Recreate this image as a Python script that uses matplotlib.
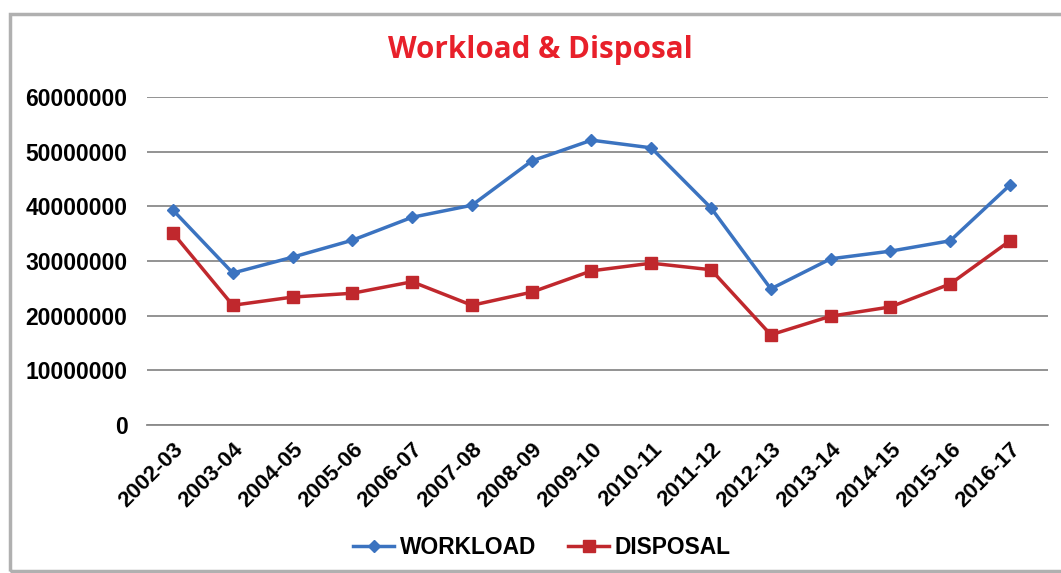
import matplotlib
matplotlib.use("Agg")
import matplotlib.pyplot as plt
from matplotlib.patches import Rectangle

years = ["2002-03", "2003-04", "2004-05", "2005-06", "2006-07", "2007-08", "2008-09",
         "2009-10", "2010-11", "2011-12", "2012-13", "2013-14", "2014-15", "2015-16", "2016-17"]
workload = [39300000, 27800000, 30700000, 33800000, 38000000, 40200000, 48300000,
            52100000, 50700000, 39700000, 24900000, 30400000, 31800000, 33700000, 43900000]
disposal = [35100000, 21900000, 23400000, 24100000, 26200000, 21900000, 24300000,
            28200000, 29600000, 28400000, 16500000, 19900000, 21600000, 25800000, 33700000]
yticks = [0, 10000000, 20000000, 30000000, 40000000, 50000000, 60000000]

plt.rcParams['font.family'] = ['Liberation Sans', 'DejaVu Sans']
fig = plt.figure(figsize=(10.61, 5.73), dpi=100)
ax = fig.add_axes([147/1061, 1-425/573, 901/1061, (425-97)/573])

x = list(range(len(years)))
ax.plot(x, workload, color='#3b73c0', lw=2.5, marker='D', ms=6, label='WORKLOAD')
ax.plot(x, disposal, color='#c0282d', lw=2.5, marker='s', ms=8, label='DISPOSAL')

ax.set_xlim(-0.435, len(years) - 1 + 0.636)
ax.set_ylim(0, 60000000)
ax.set_yticks(yticks)
ax.set_yticklabels([str(v) for v in yticks], fontsize=16.5, fontweight='bold')
ax.set_xticks(x)
ax.set_xticklabels(years, rotation=45, ha='right', rotation_mode='anchor',
                   fontsize=16, fontweight='bold')
ax.tick_params(axis='y', length=0, pad=14)
ax.tick_params(axis='x', length=0, pad=10)
ax.grid(axis='y', color='#8a8a8a', lw=1.3)
ax.set_axisbelow(True)
for s in ['top', 'right', 'left']:
    ax.spines[s].set_visible(False)
ax.spines['bottom'].set_color('#8a8a8a')
ax.spines['bottom'].set_linewidth(1.3)

fig.text(540/1061, 1-50/573, "Workload & Disposal", color='#e8202a', fontsize=21.3,
         fontweight='bold', ha='center', va='center', family=['Open Sans', 'DejaVu Sans'])

leg = fig.legend(loc='center', bbox_to_anchor=(542/1061, 1-547/573), ncol=2, frameon=False,
                 prop={'size': 16.4, 'weight': 'bold'}, handlelength=1.8, columnspacing=1.4,
                 handletextpad=0.25)

fig.patches.append(Rectangle((10/1061, 1-571/573), 1060/1061, 557/573, transform=fig.transFigure,
                             fill=False, edgecolor='#b0b0b0', lw=2.5))

fig.savefig("out.png", dpi=100)
